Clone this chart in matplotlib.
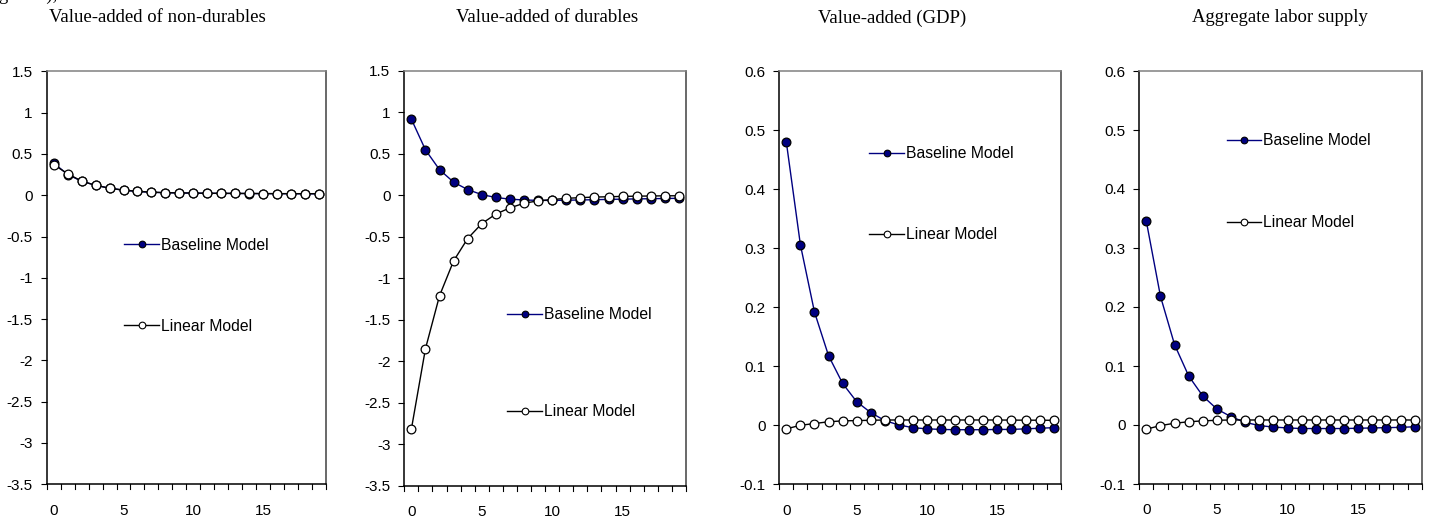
import numpy as np
import matplotlib
matplotlib.use('Agg')
import matplotlib.pyplot as plt
from matplotlib.lines import Line2D
from matplotlib.legend import Legend

# === Data ===
periods = np.arange(20)

titles = ["Value-added of non-durables", "Value-added of durables",
          "Value-added (GDP)", "Aggregate labor supply"]

nondur_base = [0.39, 0.25, 0.17, 0.12, 0.085, 0.06, 0.045, 0.035, 0.03, 0.027,
               0.025, 0.023, 0.022, 0.021, 0.02, 0.019, 0.018, 0.018, 0.017, 0.017]
nondur_lin = [0.37, 0.26, 0.17, 0.12, 0.085, 0.062, 0.047, 0.037, 0.031, 0.028,
              0.026, 0.024, 0.023, 0.022, 0.021, 0.02, 0.019, 0.019, 0.018, 0.018]

dur_base = [0.92, 0.55, 0.31, 0.16, 0.07, 0.01, -0.025, -0.045, -0.055, -0.06,
            -0.06, -0.058, -0.055, -0.052, -0.048, -0.045, -0.042, -0.04, -0.037, -0.035]
dur_lin = [-2.82, -1.85, -1.21, -0.79, -0.52, -0.34, -0.225, -0.15, -0.095, -0.065,
           -0.05, -0.035, -0.027, -0.02, -0.016, -0.012, -0.009, -0.007, -0.005, -0.004]

gdp_base = [0.480, 0.306, 0.192, 0.118, 0.071, 0.040, 0.0215, 0.008, 0.0005, -0.004,
            -0.006, -0.007, -0.0075, -0.0075, -0.0075, -0.007, -0.007, -0.006, -0.005, -0.004]
gdp_lin = [-0.006, 0.0, 0.003, 0.006, 0.0075, 0.008, 0.0085, 0.009, 0.009, 0.009,
           0.009, 0.009, 0.009, 0.009, 0.009, 0.009, 0.0088, 0.0087, 0.0086, 0.0085]

lab_base = [0.345, 0.218, 0.136, 0.083, 0.049, 0.027, 0.014, 0.0045, -0.001, -0.0035,
            -0.005, -0.006, -0.006, -0.006, -0.006, -0.0055, -0.005, -0.0045, -0.004, -0.003]
lab_lin = [-0.007, -0.001, 0.003, 0.0055, 0.007, 0.008, 0.0085, 0.0085, 0.0085, 0.0085,
           0.0085, 0.0085, 0.0085, 0.0085, 0.0085, 0.0085, 0.0085, 0.0085, 0.0085, 0.0085]

series = [(nondur_base, nondur_lin), (dur_base, dur_lin),
          (gdp_base, gdp_lin), (lab_base, lab_lin)]

ylims = [(-3.5, 1.5), (-3.5, 1.5), (-0.1, 0.6), (-0.1, 0.6)]
ysteps = [0.5, 0.5, 0.1, 0.1]

# legend anchors (axes fraction): x, y of baseline entry, y of linear entry
leg_pos = [(0.278, 0.579, 0.383), (0.366, 0.412, 0.178),
           (0.320, 0.800, 0.604), (0.309, 0.831, 0.633)]

# axes boxes in pixels: left, right, top, bottom
boxes = [(46.7, 326, 71.3, 484.3), (404.3, 686, 71, 485.7),
         (779.3, 1060.7, 71.3, 484.3), (1139.3, 1421.7, 71, 484)]
title_x = [157, 547, 892, 1280]

W, H = 1429, 517
NAVY = '#000080'
sans = ['Liberation Sans', 'DejaVu Sans']
serif = ['Liberation Serif', 'DejaVu Serif']
TICK_FS = 11
LEG_FS = 11.3
TITLE_FS = 13.5

fig = plt.figure(figsize=(W / 100, H / 100), dpi=100)
fig.text(-0.001, 1 + 5 / H, "gure 5),", family=serif, fontsize=TITLE_FS, va='center', ha='left')

for i, (base, lin) in enumerate(series):
    l, r, t, b = boxes[i]
    ax = fig.add_axes([l / W, 1 - b / H, (r - l) / W, (b - t) / H])
    ax.plot(periods, base, color=NAVY, lw=1.0, marker='o', ms=6.3,
            mfc=NAVY, mec='black', mew=0.9, zorder=3)
    ax.plot(periods, lin, color='black', lw=1.0, marker='o', ms=6.3,
            mfc='white', mec='black', mew=0.9, zorder=4)

    lo, hi = ylims[i]
    ax.set_ylim(lo, hi)
    ax.set_xlim(-0.5, 19.5)
    yt = np.round(np.arange(lo, hi + 1e-9, ysteps[i]), 2)
    ax.set_yticks(yt)
    ax.set_yticklabels([f"{v:g}" for v in yt], family=sans, fontsize=TICK_FS)
    # category axis: labels every 5 at category centres
    ax.set_xticks([0, 5, 10, 15])
    ax.set_xticklabels(['0', '5', '10', '15'], family=sans, fontsize=TICK_FS)
    ax.tick_params(axis='x', length=0, pad=14)
    ax.tick_params(axis='y', direction='out', length=4, width=0.8, pad=6)
    # tick marks between categories, below the axis like Excel
    for tk in np.arange(-0.5, 20, 1.0):
        ax.plot([tk, tk], [0, -0.012], color='black', lw=0.8,
                transform=ax.get_xaxis_transform(), clip_on=False)

    ax.spines['left'].set_color('black')
    ax.spines['bottom'].set_color('black')
    ax.spines['top'].set_color('#808080')
    ax.spines['right'].set_color('#404040')
    for s in ax.spines.values():
        s.set_linewidth(1.1)

    fig.text(title_x[i] / W, 1 - 18 / H, titles[i], family=serif, fontsize=TITLE_FS,
             ha='center', va='center')

    lx, by, ly = leg_pos[i]
    hb = Line2D([], [], color=NAVY, lw=1.0, marker='o', ms=4.8, mfc=NAVY, mec='black', mew=0.8)
    hl = Line2D([], [], color='black', lw=1.0, marker='o', ms=4.8, mfc='white', mec='black', mew=0.8)
    for h, lab, yy in [(hb, 'Baseline Model', by), (hl, 'Linear Model', ly)]:
        lg = Legend(ax, [h], [lab], loc='center left', bbox_to_anchor=(lx, yy),
                    frameon=False, borderpad=0, borderaxespad=0,
                    handlelength=2.2, handletextpad=0.15,
                    prop={'family': sans, 'size': LEG_FS})
        ax.add_artist(lg)

fig.savefig('out.png', dpi=100)
